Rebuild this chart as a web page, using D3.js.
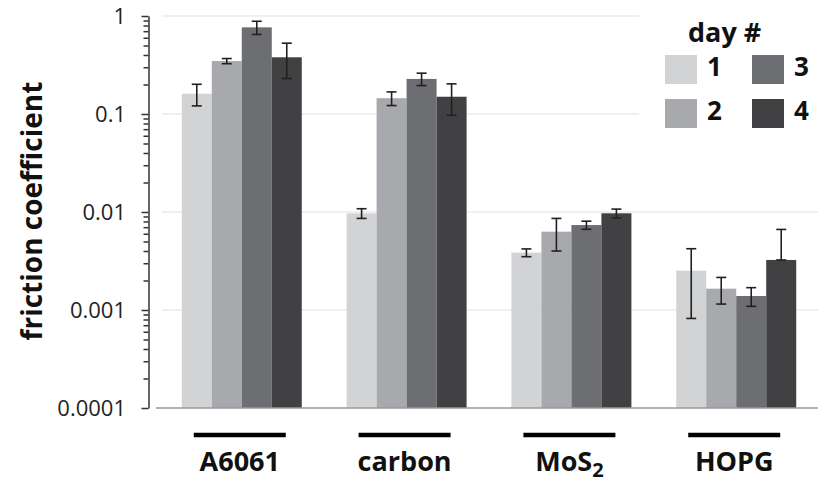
<!DOCTYPE html>
<html>
<head>
<meta charset="utf-8">
<script src="https://cdn.jsdelivr.net/npm/d3@7"></script>
<style>
  body { margin: 0; background: #fff; }
  svg { display: block; font-family: "Open Sans", sans-serif; }
</style>
</head>
<body>
<svg width="825" height="483"></svg>
<script>
// data
const materials = ["A6061", "carbon", "MoS2", "HOPG"];
const days = ["1", "2", "3", "4"];
const friction = [
  [0.161, 0.347, 0.766, 0.379],
  [0.0097, 0.145, 0.228, 0.150],
  [0.00385, 0.0063, 0.00736, 0.0097],
  [0.00252, 0.00165, 0.00139, 0.00324]
];
const frictionErr = [
  [0.040, 0.021, 0.118, 0.149],
  [0.0011, 0.023, 0.033, 0.053],
  [0.00035, 0.0023, 0.0007, 0.0010],
  [0.0017, 0.0005, 0.0003, 0.0034]
];
const yTicks = [1, 0.1, 0.01, 0.001, 0.0001];
const yTickLabels = ["1", "0.1", "0.01", "0.001", "0.0001"];
const dayColors = ["#d1d3d4", "#a7a9ac", "#6d6e71", "#414042"];

const svg = d3.select("svg");

// scales
const y = d3.scaleLog().domain([0.0001, 1]).range([408, 16]);
const x0 = d3.scaleBand()
  .domain(materials)
  .range([162, 816])
  .paddingInner(0.272)
  .paddingOuter(0.12);
const x1 = d3.scaleBand().domain(days).range([0, x0.bandwidth()]).padding(0);
const color = d3.scaleOrdinal().domain(days).range(dayColors);

// gridlines
svg.append("g")
  .selectAll("line")
  .data(yTicks.slice(0, 4))
  .join("line")
  .attr("x1", 162)
  .attr("x2", 818)
  .attr("y1", d => y(d))
  .attr("y2", d => y(d))
  .attr("stroke", "#e2e2e2")
  .attr("stroke-width", 1.2);

// legend background hides the top gridlines
svg.append("rect")
  .attr("x", 639).attr("y", 0)
  .attr("width", 186).attr("height", 140)
  .attr("fill", "#fff");

// bars
const groups = svg.append("g")
  .selectAll("g")
  .data(materials)
  .join("g")
  .attr("transform", d => `translate(${x0(d)},0)`);

const cells = groups.selectAll("g")
  .data((m, mi) => days.map((d, di) => ({
    day: d,
    v: friction[mi][di],
    e: frictionErr[mi][di]
  })))
  .join("g");

cells.append("rect")
  .attr("x", d => x1(d.day))
  .attr("width", x1.bandwidth())
  .attr("y", d => y(d.v))
  .attr("height", d => y.range()[0] - y(d.v))
  .attr("fill", d => color(d.day));

// error bars (lower whisker clipped at the mean when it would go below zero)
const errColor = "#231f20";
cells.each(function (d) {
  const g = d3.select(this);
  const cx = x1(d.day) + x1.bandwidth() / 2;
  const hi = d.v + d.e;
  const lo = d.v - d.e > 0 ? d.v - d.e : d.v;
  g.append("line")
    .attr("x1", cx).attr("x2", cx)
    .attr("y1", y(hi)).attr("y2", y(lo))
    .attr("stroke", errColor).attr("stroke-width", 1.6);
  [hi, lo].forEach(val => {
    g.append("line")
      .attr("x1", cx - 5).attr("x2", cx + 5)
      .attr("y1", y(val)).attr("y2", y(val))
      .attr("stroke", errColor).attr("stroke-width", 1.6);
  });
});

// baseline
svg.append("line")
  .attr("x1", 156).attr("x2", 818)
  .attr("y1", y(0.0001)).attr("y2", y(0.0001))
  .attr("stroke", "#9a9a9a")
  .attr("stroke-width", 1.4);

// y axis: minor ticks then major ticks
const minorTicks = [];
for (let p = -4; p < 0; p++) {
  for (let k = 2; k <= 9; k++) minorTicks.push(k * Math.pow(10, p));
}
const axisX = 148.5;

svg.append("g")
  .attr("transform", `translate(${axisX},0)`)
  .call(d3.axisLeft(y).tickValues(minorTicks).tickSize(5).tickSizeOuter(0).tickFormat(""))
  .call(g => g.select(".domain").remove())
  .selectAll("line")
  .attr("stroke", "#333")
  .attr("stroke-width", 1.5);

const yAxis = svg.append("g")
  .attr("transform", `translate(${axisX},0)`)
  .call(d3.axisLeft(y)
    .tickValues(yTicks)
    .tickSize(7)
    .tickSizeOuter(0)
    .tickFormat(""));

yAxis.select(".domain").attr("stroke", "#333").attr("stroke-width", 1.5);
yAxis.selectAll(".tick line").attr("stroke", "#333").attr("stroke-width", 1.5);

// tick labels
svg.append("g")
  .selectAll("text")
  .data(yTicks)
  .join("text")
  .attr("x", 126)
  .attr("y", d => y(d))
  .attr("dy", "0.36em")
  .attr("text-anchor", "end")
  .attr("font-size", 22)
  .attr("fill", "#222")
  .text((d, i) => yTickLabels[i]);

// y axis title
svg.append("text")
  .attr("transform", "translate(42,211) rotate(-90)")
  .attr("text-anchor", "middle")
  .attr("font-size", 28)
  .attr("font-weight", 700)
  .attr("fill", "#111")
  .text("friction coefficient");

// category labels with black bars
const cat = svg.append("g")
  .selectAll("g")
  .data(materials)
  .join("g")
  .attr("transform", d => `translate(${x0(d) + x0.bandwidth() / 2 - 2},0)`);

cat.append("line")
  .attr("x1", -46).attr("x2", 46)
  .attr("y1", 435).attr("y2", 435)
  .attr("stroke", "#000")
  .attr("stroke-width", 4.5);

cat.append("text")
  .attr("y", 471)
  .attr("text-anchor", "middle")
  .attr("font-size", 27)
  .attr("font-weight", 700)
  .attr("fill", "#111")
  .each(function (d) {
    const t = d3.select(this);
    if (d === "MoS2") {
      t.append("tspan").text("MoS");
      t.append("tspan").attr("font-size", 20).attr("dy", 6).text("2");
    } else {
      t.text(d);
    }
  });

// legend
const legend = svg.append("g");
legend.append("text")
  .attr("x", 688).attr("y", 42)
  .attr("font-size", 27)
  .attr("font-weight", 700)
  .attr("fill", "#111")
  .text("day #");

const item = legend.selectAll("g")
  .data(days)
  .join("g")
  .attr("transform", (d, i) => `translate(${665 + Math.floor(i / 2) * 87},${55 + (i % 2) * 44})`);

item.append("rect")
  .attr("width", 32)
  .attr("height", 29)
  .attr("fill", d => color(d));

item.append("text")
  .attr("x", 42)
  .attr("y", 21)
  .attr("font-size", 26)
  .attr("font-weight", 700)
  .attr("fill", "#111")
  .text(d => d);
</script>
</body>
</html>
